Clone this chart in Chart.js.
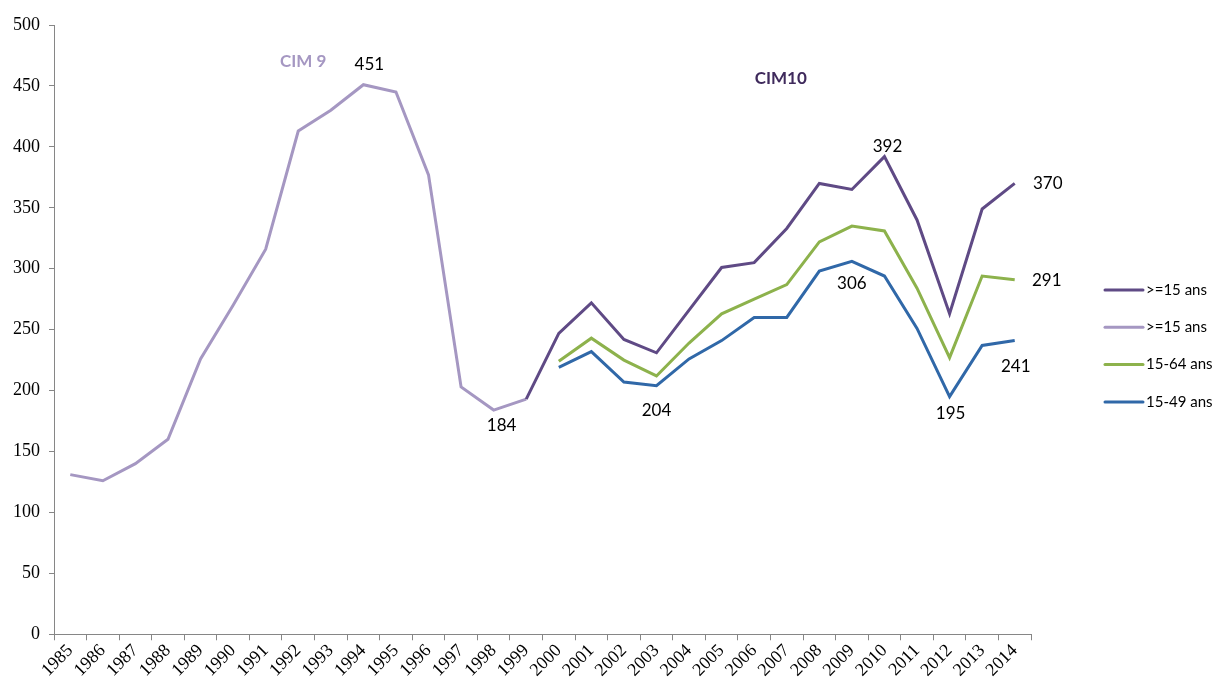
<!DOCTYPE html>
<html>
<head>
<meta charset="utf-8">
<script src="https://cdn.jsdelivr.net/npm/chart.js@4.4.1/dist/chart.umd.min.js"></script>
<style>
  html, body { margin: 0; padding: 0; background: #fff; }
  #wrap { width: 1219px; height: 684px; }
</style>
</head>
<body>
<div id="wrap"><canvas id="chart"></canvas></div>
<script>
// years on the x axis
const years = ['1985','1986','1987','1988','1989','1990','1991','1992','1993','1994',
  '1995','1996','1997','1998','1999','2000','2001','2002','2003','2004',
  '2005','2006','2007','2008','2009','2010','2011','2012','2013','2014'];

// CIM 9 (1985-1999)
const cim9 = [131,126,140,160,226,270,316,413,430,451,445,377,203,184,193,
  null,null,null,null,null,null,null,null,null,null,null,null,null,null,null];

// CIM10, >=15 ans (joins at 1999)
const cim10_15plus = [null,null,null,null,null,null,null,null,null,null,null,null,null,null,193,
  247,272,242,231,266,301,305,333,370,365,392,340,263,349,370];

// 15-64 ans
const cim10_1564 = [null,null,null,null,null,null,null,null,null,null,null,null,null,null,null,
  224,243,225,212,239,263,275,287,322,335,331,284,227,294,291];

// 15-49 ans
const cim10_1549 = [null,null,null,null,null,null,null,null,null,null,null,null,null,null,null,
  219,232,207,204,226,241,260,260,298,306,294,251,195,237,241];

const yTicks = [0,50,100,150,200,250,300,350,400,450,500];

const colDark = '#5f4a85';
const colLight = '#a597c2';
const colGreen = '#8db24c';
const colBlue = '#3068a8';

// labels written next to some points: dataset index, year, offset from point
const pointLabels = [
  { ds: 1, year: '1994', dx: 6, dy: -20 },
  { ds: 1, year: '1998', dx: 8, dy: 15 },
  { ds: 3, year: '2003', dx: 0, dy: 25 },
  { ds: 3, year: '2009', dx: 0, dy: 22 },
  { ds: 0, year: '2010', dx: 3, dy: -10 },
  { ds: 3, year: '2012', dx: 1, dy: 17 },
  { ds: 3, year: '2014', dx: 1, dy: 26 },
  { ds: 0, year: '2014', dx: 33, dy: 0 },
  { ds: 2, year: '2014', dx: 32, dy: 1 }
];

const extrasPlugin = {
  id: 'extras',
  afterDatasetsDraw(chart) {
    const ctx = chart.ctx;
    const xs = chart.scales.x, ys = chart.scales.y;
    ctx.save();
    ctx.textAlign = 'center';
    ctx.textBaseline = 'middle';

    // value labels
    ctx.font = '17px Lato';
    ctx.fillStyle = '#000';
    pointLabels.forEach(l => {
      const idx = years.indexOf(l.year);
      const pt = chart.getDatasetMeta(l.ds).data[idx];
      const v = chart.data.datasets[l.ds].data[idx];
      ctx.fillText(String(Math.round(v)), pt.x + l.dx, pt.y + l.dy);
    });

    // period titles
    ctx.font = 'bold 17px Lato';
    ctx.fillStyle = colLight;
    ctx.fillText('CIM 9', xs.getPixelForValue(years.indexOf('1992')) + 5, ys.getPixelForValue(470));
    ctx.fillStyle = '#3f2a5c';
    ctx.fillText('CIM10', xs.getPixelForValue(years.indexOf('2007')) - 6, ys.getPixelForValue(456));

    // legend
    ctx.textAlign = 'left';
    ctx.font = '15px Lato';
    const lx = chart.chartArea.right + 74;
    let ly = 290;
    chart.data.datasets.forEach(ds => {
      ctx.strokeStyle = ds.borderColor;
      ctx.lineWidth = 3;
      ctx.lineCap = 'round';
      ctx.beginPath();
      ctx.moveTo(lx, ly);
      ctx.lineTo(lx + 38, ly);
      ctx.stroke();
      ctx.fillStyle = '#000';
      ctx.fillText(ds.label, lx + 41, ly);
      ly += 37.3;
    });
    ctx.restore();
  }
};

const ctx = document.getElementById('chart').getContext('2d');
new Chart(ctx, {
  type: 'line',
  data: {
    labels: years,
    datasets: [
      { label: '>=15 ans', data: cim10_15plus, borderColor: colDark, backgroundColor: colDark },
      { label: '>=15 ans', data: cim9, borderColor: colLight, backgroundColor: colLight },
      { label: '15-64 ans', data: cim10_1564, borderColor: colGreen, backgroundColor: colGreen },
      { label: '15-49 ans', data: cim10_1549, borderColor: colBlue, backgroundColor: colBlue }
    ]
  },
  options: {
    responsive: true,
    maintainAspectRatio: false,
    animation: false,
    layout: { padding: { top: 25, right: 188, left: 4, bottom: 3 } },
    elements: {
      point: { radius: 0 },
      line: { borderWidth: 3, tension: 0, borderJoinStyle: 'miter' }
    },
    plugins: {
      legend: { display: false },
      tooltip: { enabled: false }
    },
    scales: {
      x: {
        offset: true,
        grid: { offset: true, drawOnChartArea: false, tickLength: 6, color: '#868686' },
        border: { color: '#868686', width: 1 },
        ticks: {
          autoSkip: false, minRotation: 45, maxRotation: 45, padding: 0,
          color: '#000', font: { family: 'Liberation Serif', size: 18 }
        }
      },
      y: {
        min: 0, max: 500,
        afterBuildTicks(axis) { axis.ticks = yTicks.map(v => ({ value: v })); },
        grid: { drawOnChartArea: false, tickLength: 5, color: '#868686' },
        border: { color: '#868686', width: 1 },
        ticks: {
          padding: 9, color: '#000', font: { family: 'Liberation Serif', size: 18 }
        }
      }
    }
  },
  plugins: [extrasPlugin]
});
</script>
</body>
</html>
